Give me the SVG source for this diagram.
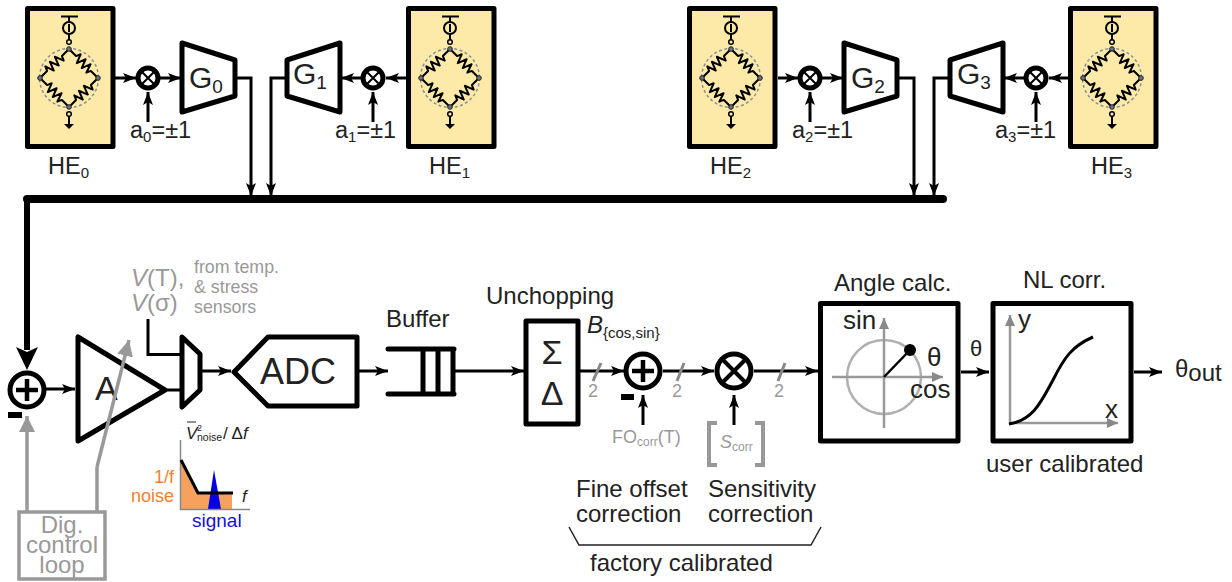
<svg xmlns="http://www.w3.org/2000/svg" width="1232" height="582" viewBox="0 0 1232 582">
<style>
text{font-family:"Liberation Sans",Arial,sans-serif;fill:#222}
.gr{fill:#999}
.sb{stroke:#000;fill:none;stroke-width:5;stroke-linejoin:round;stroke-linecap:round}
.w{stroke:#000;fill:#fff;stroke-width:5;stroke-linejoin:round}
.c{stroke:#000;fill:none;stroke-width:3}
.cg{stroke:#999;fill:none;stroke-width:3.5}
.g{stroke:#999;fill:none;stroke-width:2.5}
.t{stroke:#000;stroke-width:2;fill:none;stroke-linejoin:round}
.s{font-size:23.500px}
</style>
<defs>
<marker id="a" markerUnits="userSpaceOnUse" markerWidth="14" markerHeight="12" refX="13" refY="6" orient="auto"><path d="M0 1L13 6L0 11L3 6Z" fill="#000"/></marker>
<marker id="ag" markerUnits="userSpaceOnUse" markerWidth="18" markerHeight="18" refX="16" refY="8" orient="auto"><path d="M0 0L16 8L0 16Z" fill="#999"/></marker>
<marker id="agb" markerUnits="userSpaceOnUse" markerWidth="12" markerHeight="12" refX="11" refY="5" orient="auto"><path d="M0 0L11 5L0 10Z" fill="#888"/></marker>
<path id="r" d="M0 0L10 0L12 -4.500L15.500 4.500L19 -4.500L22.500 4.500L26 -4.500L29 4.500L31 0L41 0" class="t"/>
<g id="he">
<rect x="27.500" y="8.500" width="85.500" height="138" fill="#fdeaa8" stroke="#000" stroke-width="5" stroke-linejoin="round"/>
<circle cx="69" cy="78" r="29.500" fill="none" stroke="#8a8f9a" stroke-width="1.500" stroke-dasharray="3 2.500"/>
<path d="M61 16.500H78M69 16.500V22M69 34V40M69 116V126" class="t"/>
<path d="M64 124H74L69 129Z" fill="#000"/>
<circle cx="69" cy="28" r="6" fill="none" stroke="#000" stroke-width="2"/>
<path d="M69 24V32" class="t"/>
<circle cx="69" cy="42" r="2.300" fill="none" stroke="#000" stroke-width="1.500"/>
<circle cx="69" cy="114" r="2.300" fill="none" stroke="#000" stroke-width="1.500"/>
<use href="#r" transform="translate(69 49) rotate(45)"/>
<use href="#r" transform="translate(69 49) rotate(135)"/>
<use href="#r" transform="translate(40 78) rotate(45)"/>
<use href="#r" transform="translate(98 78) rotate(135)"/>
<g fill="#6b7280" stroke="#222" stroke-width="1"><circle cx="69" cy="49" r="2.300"/><circle cx="69" cy="107" r="2.300"/><circle cx="40" cy="78" r="2.300"/><circle cx="98" cy="78" r="2.300"/></g>
</g>
<g id="mul"><circle r="10" fill="#fff" stroke="#000" stroke-width="5"/><path d="M-6 -6L6 6M6 -6L-6 6" stroke="#000" stroke-width="2"/></g>
</defs>

<g id="connectors">
<path class="c" marker-end="url(#a)" d="M115 78H136"/>
<path class="c" marker-end="url(#a)" d="M160 78H181"/>
<path class="c" marker-end="url(#a)" d="M148 122V92"/>
<path class="c" marker-end="url(#a)" d="M236 78H251V196"/>
<path class="c" marker-end="url(#a)" d="M286 78H271V196"/>
<path class="c" marker-end="url(#a)" d="M406 78H386"/>
<path class="c" marker-end="url(#a)" d="M361 78H341"/>
<path class="c" marker-end="url(#a)" d="M373 122V92"/>
<path class="c" marker-end="url(#a)" d="M778 78H798"/>
<path class="c" marker-end="url(#a)" d="M822 78H843"/>
<path class="c" marker-end="url(#a)" d="M810 122V92"/>
<path class="c" marker-end="url(#a)" d="M898 78H914V196"/>
<path class="c" marker-end="url(#a)" d="M949 78H934V196"/>
<path class="c" marker-end="url(#a)" d="M1069 78H1049"/>
<path class="c" marker-end="url(#a)" d="M1024 78H1004"/>
<path class="c" marker-end="url(#a)" d="M1036 122V92"/>
<path d="M27 199H943" stroke="#000" stroke-width="8" stroke-linecap="round" fill="none"/>
<path d="M27 199V350" stroke="#000" stroke-width="6" fill="none"/>
<path d="M16 347L27 352L38 347L27 370Z" fill="#000"/>
<path class="cg" marker-end="url(#ag)" d="M27 511V416"/>
<path class="cg" d="M97 511V467"/>
<path class="c" marker-end="url(#a)" d="M46 389H75"/>
<path class="c" d="M165 390H182"/>
<path class="c" d="M148 319V354.500H182"/>
<path class="c" marker-end="url(#a)" d="M201 371H231"/>
<path class="c" marker-end="url(#a)" d="M357 371H388"/>
<path class="c" marker-end="url(#a)" d="M454 371H524"/>
<path class="c" marker-end="url(#a)" d="M579 371H624"/>
<path class="c" marker-end="url(#a)" d="M663 371H714"/>
<path class="c" marker-end="url(#a)" d="M754 371H818"/>
<path class="c" marker-end="url(#a)" d="M643 425V395"/>
<path class="c" marker-end="url(#a)" d="M734 425V395"/>
<path class="c" marker-end="url(#a)" d="M961 372H989"/>
<path class="c" marker-end="url(#a)" d="M1134 372H1162"/>
<path d="M593 381L601 363M677 381L684 363M778 381L785 363" stroke="#888" stroke-width="3" fill="none"/>
<path d="M569 527L579 545H811L821 527" stroke="#222" stroke-width="1.500" fill="none"/>
</g>

<g id="he0"><use href="#he"/></g>
<g id="he1"><use href="#he" x="381"/></g>
<g id="he2"><use href="#he" x="662"/></g>
<g id="he3"><use href="#he" x="1043"/></g>
<g id="labels-he">
<text x="48" y="174" class="s">HE<tspan font-size="15" dy="4">0</tspan></text>
<text x="429" y="174" class="s">HE<tspan font-size="15" dy="4">1</tspan></text>
<text x="710" y="174" class="s">HE<tspan font-size="15" dy="4">2</tspan></text>
<text x="1091" y="174" class="s">HE<tspan font-size="15" dy="4">3</tspan></text>
<text x="130" y="138" class="s">a<tspan font-size="15" dy="4">0</tspan><tspan dy="-4">=±1</tspan></text>
<text x="335" y="138" class="s">a<tspan font-size="15" dy="4">1</tspan><tspan dy="-4">=±1</tspan></text>
<text x="792" y="138" class="s">a<tspan font-size="15" dy="4">2</tspan><tspan dy="-4">=±1</tspan></text>
<text x="995" y="138" class="s">a<tspan font-size="15" dy="4">3</tspan><tspan dy="-4">=±1</tspan></text>
</g>
<g id="m0"><use href="#mul" x="148" y="78"/></g>
<g id="m1"><use href="#mul" x="373" y="78"/></g>
<g id="m2"><use href="#mul" x="810" y="78"/></g>
<g id="m3"><use href="#mul" x="1036" y="78"/></g>
<g id="g0"><path class="w" d="M182 43L235 60V96L182 112Z"/><text x="189" y="88" font-size="30">G<tspan font-size="19" dy="5">0</tspan></text></g>
<g id="g1"><path class="w" d="M340 43L287 60V96L340 112Z"/><text x="293" y="84" font-size="30">G<tspan font-size="19" dy="5">1</tspan></text></g>
<g id="g2"><path class="w" d="M844 43L897 60V96L844 112Z"/><text x="851" y="88" font-size="30">G<tspan font-size="19" dy="5">2</tspan></text></g>
<g id="g3"><path class="w" d="M1003 43L950 60V96L1003 112Z"/><text x="957" y="84" font-size="30">G<tspan font-size="19" dy="5">3</tspan></text></g>

<g id="sum1"><circle cx="27" cy="390" r="17" fill="#fff" stroke="#000" stroke-width="5"/><path d="M16 390H38M27 379V401" stroke="#000" stroke-width="4.500"/><rect x="8" y="412" width="14" height="6"/></g>
<g id="amp"><path class="sb" d="M78 337V441L165 390Z"/><text x="95" y="400" font-size="34">A</text></g>
<path class="cg" marker-end="url(#ag)" d="M97 467L129 340"/>
<g id="mux"><path class="sb" d="M182 337L200 354V390L182 407Z" fill="#fff"/></g>
<g id="adc"><path class="sb" d="M234 372L268 337H357V406H268Z"/><text x="260" y="384" font-size="36">ADC</text></g>
<g id="vt">
<text x="131" y="286" font-size="24" class="gr"><tspan font-style="italic">V</tspan>(T),</text>
<text x="131" y="311" font-size="24" class="gr"><tspan font-style="italic">V</tspan>(σ)</text>
<text x="194" y="273" font-size="17.800" class="gr">from temp.</text>
<text x="194" y="293" font-size="17.800" class="gr">&amp; stress</text>
<text x="194" y="313" font-size="17.800" class="gr">sensors</text>
</g>
<g id="spectrum">
<path d="M181 460L198 493H232V509H181Z" fill="#f6a25e"/>
<path d="M214 470L208 509H221Z" fill="#0000e6"/>
<path d="M180.500 440V509.500H250" stroke="#888" stroke-width="1.500" fill="none"/>
<path d="M181 460L198 493H233" stroke="#000" stroke-width="3" fill="none"/>
<path d="M187 422H196" stroke="#222" stroke-width="1"/>
<text x="186" y="439" font-size="17" font-style="italic">V</text>
<text x="197" y="431" font-size="9">2</text>
<text x="197" y="441" font-size="10.500">noise</text>
<text x="223" y="439" font-size="17">/ Δ<tspan font-style="italic">f</tspan></text>
<text x="242" y="502" font-size="17" font-style="italic">f</text>
<text x="174" y="483" font-size="18" text-anchor="end" style="fill:#f4822a">1/f</text>
<text x="174" y="502" font-size="18" text-anchor="end" style="fill:#f4822a">noise</text>
<text x="192" y="527" font-size="19" style="fill:#1010e0">signal</text>
</g>
<g id="dig"><rect x="19" y="512" width="86" height="67" fill="#fff" stroke="#999" stroke-width="3.500"/>
<text x="62" y="533" font-size="24" text-anchor="middle" class="gr">Dig.</text>
<text x="62" y="553" font-size="24" text-anchor="middle" class="gr">control</text>
<text x="62" y="573" font-size="24" text-anchor="middle" class="gr">loop</text></g>
<g id="buffer"><path class="sb" d="M388 349H454M388 394H454M423 349V394M438 349V394M453 349V394"/><text x="386" y="327" font-size="24">Buffer</text></g>
<g id="sd"><rect x="526" y="321" width="52" height="103" class="sb"/><text x="552" y="364" font-size="34" text-anchor="middle">Σ</text><text x="552" y="405" font-size="34" text-anchor="middle">Δ</text><text x="486" y="304" font-size="24">Unchopping</text></g>
<text x="587" y="333" font-size="24" font-style="italic">B<tspan font-size="15" font-style="normal" dy="5">{cos,sin}</tspan></text>
<g id="sum2"><circle cx="643" cy="371" r="17" fill="#fff" stroke="#000" stroke-width="5"/><path d="M632 371H654M643 360V382" stroke="#000" stroke-width="4.500"/><rect x="621" y="394" width="13" height="6"/></g>
<g id="mul2"><circle cx="734" cy="371" r="17" fill="#fff" stroke="#000" stroke-width="5"/><path d="M723 360L745 382M745 360L723 382" stroke="#000" stroke-width="4"/></g>
<g id="widths"><text x="593" y="397" font-size="18" text-anchor="middle" class="gr">2</text><text x="677" y="397" font-size="18" text-anchor="middle" class="gr">2</text><text x="779" y="397" font-size="18" text-anchor="middle" class="gr">2</text></g>
<g id="focorr"><text x="612" y="443" font-size="18" class="gr">FO<tspan font-size="12" dy="3">corr</tspan><tspan dy="-3">(T)</tspan></text></g>
<g id="scorr"><path d="M717 423H709V465H717M755 423H763V465H755" stroke="#999" stroke-width="4" fill="none"/><text x="720" y="448" font-size="18" class="gr"><tspan font-style="italic">S</tspan><tspan font-size="12" dy="3">corr</tspan></text></g>
<g id="notes">
<text x="576" y="497" font-size="24">Fine offset</text><text x="576" y="522" font-size="24">correction</text>
<text x="708" y="497" font-size="24">Sensitivity</text><text x="708" y="522" font-size="24">correction</text>
<text x="590" y="571" font-size="24">factory calibrated</text>
</g>
<g id="angle"><rect x="820.500" y="303.500" width="137.500" height="137.500" class="sb"/>
<circle cx="884" cy="377" r="37" fill="none" stroke="#b0b0b0" stroke-width="2.500"/>
<path class="g" marker-end="url(#agb)" d="M832 377H943"/><path class="g" marker-end="url(#agb)" d="M884 428V318"/>
<path d="M884 377L910 350" stroke="#000" stroke-width="2.500"/><circle cx="910" cy="350" r="6"/>
<text x="843" y="329" font-size="26">sin</text><text x="927" y="366" font-size="26">θ</text><text x="910" y="398" font-size="26">cos</text>
<text x="834" y="291" font-size="24">Angle calc.</text></g>
<g id="nl"><rect x="993" y="303.500" width="138" height="137.500" class="sb"/>
<path class="g" marker-end="url(#agb)" d="M1010 424V315"/><path class="g" marker-end="url(#agb)" d="M1009 423H1118"/>
<path d="M1009 424C1034 420 1042 400 1053 380C1064 358 1072 346 1093 337" stroke="#000" stroke-width="3" fill="none"/>
<text x="1018" y="328" font-size="26">y</text><text x="1105" y="418" font-size="26">x</text>
<text x="1023" y="288" font-size="24">NL corr.</text>
<text x="986" y="472" font-size="24">user calibrated</text></g>
<text x="970" y="356" font-size="22">θ</text>
<text x="1175" y="377" font-size="24" id="out">θ<tspan dy="4">out</tspan></text>
</svg>
